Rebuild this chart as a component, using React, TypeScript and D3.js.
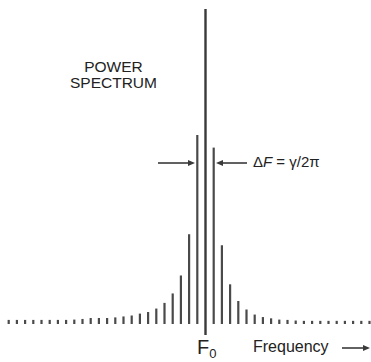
import React from 'react';
import * as d3 from 'd3';

// relative power of each line, center peak = 100
const centerPower = 100;
// harmonics to the left of F0, index 1 = nearest
const leftPower = [60, 28.5, 15.4, 9.7, 6.7, 4.9, 3.8, 3.3, 2.7, 2.4, 2.1, 1.9, 1.9, 1.9, 1.6, 1.4, 1.3, 1.3, 1.3, 1.3, 1.3, 1.3, 1.3, 1.3];
// harmonics to the right of F0
const rightPower = [56, 25, 12.6, 7.3, 4.6, 3.0, 2.2, 1.8, 1.4, 1.3, 1.1, 1.0, 1.0, 1.0, 1.0, 1.0, 1.0, 1.0, 1.0, 1.0];

const W = 371;
const H = 362;

const App = () => {
  const bars = [
    ...leftPower.map((p, i) => ({ k: -(i + 1), p })),
    ...rightPower.map((p, i) => ({ k: i + 1, p })),
  ];

  const x = d3.scaleLinear().domain([-leftPower.length, rightPower.length]).range([8.7, 369.5]);
  const y = d3.scaleLinear().domain([0, centerPower]).range([324, 9]);

  const ink = '#3a3a3a';
  const font = 'Liberation Sans, Arial, Helvetica, sans-serif';

  const arrowHead = (tipX: number, tipY: number, dir: number) => {
    const l = 7;
    const h = 3;
    return `M${tipX},${tipY} L${tipX - dir * l},${tipY - h} L${tipX - dir * l},${tipY + h} Z`;
  };

  return (
    <svg width={W} height={H} style={{ position: 'absolute', left: 0, top: 0, background: '#fff' }}>
      {bars.map(d => (
        <rect
          key={d.k}
          x={x(d.k) - 1.1}
          y={y(d.p)}
          width={2.2}
          height={y(0) - y(d.p)}
          fill="#4a4a4a"
        />
      ))}
      {/* F0 line, runs a little below the baseline */}
      <rect x={x(0) - 1.2} y={y(centerPower)} width={2.4} height={y(0) - y(centerPower) + 11} fill={ink} />

      <text x={113.5} y={72} textAnchor="middle" fontFamily={font} fontSize={15.5} fill="#222">POWER</text>
      <text x={113.5} y={88} textAnchor="middle" fontFamily={font} fontSize={15.5} fill="#222">SPECTRUM</text>

      {/* linewidth arrows */}
      <line x1={158} y1={163} x2={190} y2={163} stroke={ink} strokeWidth={1.6} />
      <path d={arrowHead(195, 163, 1)} fill={ink} />
      <line x1={247} y1={163} x2={221} y2={163} stroke={ink} strokeWidth={1.6} />
      <path d={arrowHead(216, 163, -1)} fill={ink} />
      <text x={253} y={167} fontFamily={font} fontSize={15} fill="#222">
        Δ<tspan fontStyle="italic">F</tspan> = γ/2π
      </text>

      <text x={x(0) - 8.5} y={354} fontFamily={font} fontSize={20} fill="#222">
        F<tspan fontSize={13} dy={4}>0</tspan>
      </text>
      <text x={253} y={352} fontFamily={font} fontSize={16} fill="#222">Frequency</text>
      <line x1={342} y1={348} x2={364} y2={348} stroke={ink} strokeWidth={1.6} />
      <path d={arrowHead(370, 348, 1)} fill={ink} />
    </svg>
  );
};

export default App;
